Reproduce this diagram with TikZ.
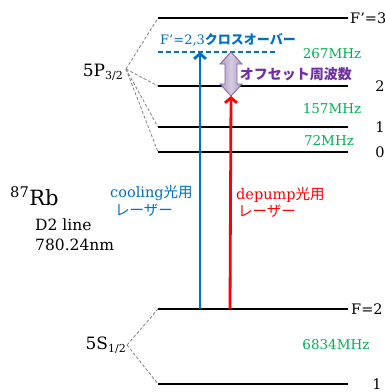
\documentclass[tikz,border=0pt]{standalone}
\usepackage{fontspec}
\setmainfont{DejaVu Serif}
\newfontfamily\jp{Noto Sans CJK JP}
\usetikzlibrary{arrows.meta}
\definecolor{lblue}{HTML}{0070C0}
\definecolor{lgreen}{HTML}{00B050}
\definecolor{lpurple}{HTML}{7030A0}
\definecolor{afill}{HTML}{B3A2C7}
\definecolor{aedge}{HTML}{8064A2}
\begin{document}
\begin{tikzpicture}[x=1pt,y=-1pt,
  level/.style={line width=2.2pt,black},
  fan/.style={dashed,dash pattern=on 3pt off 2pt,gray,line width=0.8pt},
  lab/.style={inner sep=0pt,font=\fontsize{14.5}{16}\selectfont},
  freq/.style={inner sep=0pt,text=lgreen,font=\fontsize{13.5}{16}\selectfont},
  laser/.style={line width=2.8pt,-{Straight Barb[length=5pt,width=12pt]}},
  small/.style={inner sep=0pt,font=\fontsize{14.5}{16}\selectfont},
]
\useasboundingbox (0,0) rectangle (385,392);

% level end points
\foreach \n/\y in {ea/18,eb/86,ec/127,ed/152,ga/309,gb/384} {
  \coordinate (\n L) at (158,\y);
  \coordinate (\n R) at (348,\y);
}
\foreach \n in {ea,eb,ec,ed,ga,gb} \draw[level] (\n L) -- (\n R);

% fans
\coordinate (papex) at (126,69);
\coordinate (sapex) at (127,345);
\foreach \n in {ea,eb,ec,ed} \draw[fan] (papex) -- (\n L);
\foreach \n in {ga,gb} \draw[fan] (sapex) -- (\n L);

% state labels
\node[inner sep=0pt,anchor=base east,font=\fontsize{17}{18}\selectfont] (p32) at (123,76)
  {5P\raisebox{-0.35ex}{\fontsize{11}{11}\selectfont 3/2}};
\node[inner sep=0pt,anchor=base east,font=\fontsize{17}{18}\selectfont] (s12) at (126,349)
  {5S\raisebox{-0.35ex}{\fontsize{11}{11}\selectfont 1/2}};

% level labels
\node[lab,anchor=west] (lea) at (350,18) {F’=3};
\node[lab] (leb) at (380,86) {2};
\node[lab] (lec) at (380,127) {1};
\node[lab] (led) at (380,152) {0};
\node[lab,anchor=west] (lga) at (351,309) {F=2};
\node[lab] (lgb) at (377,384) {1};

% frequencies
\node[freq] (f267) at (332,54) {267MHz};
\node[freq] (f157) at (332,109) {157MHz};
\node[freq] (f72) at (329,140) {72MHz};
\node[freq] (f6834) at (336,345) {6834MHz};

% crossover
\coordinate (xL) at (158,52);
\coordinate (xR) at (275,52);
\draw[lblue,line width=1.6pt,dash pattern=on 5pt off 3pt] (xL) -- (xR);
\node[inner sep=0pt,anchor=base west,text=lblue,font=\fontsize{13}{15}\selectfont] (xlab) at (160,44)
  {F’=2,3{\jp\bfseries クロスオーバー}};

% offset arrow
\coordinate (offT) at (231,52);
\coordinate (offB) at (231,96);
\draw[aedge,line width=0.8pt,line join=miter,left color=afill!90!aedge,right color=afill!90!aedge,middle color=afill!55]
  (offT) -- ++(11,12) -- ++(-5,0) -- ++(0,20) -- ++(5,0)
  -- (offB) -- ++(-11,-12) -- ++(5,0) -- ++(0,-20) -- ++(-5,0) -- cycle;
\node[inner sep=0pt,text=lpurple,font=\fontsize{14}{16}\selectfont\jp\bfseries] (offlab) at (296,74) {オフセット周波数};

% lasers
\coordinate (bs) at (200,309);
\coordinate (bt) at (200,52);
\coordinate (rs) at (230,309);
\draw[laser,lblue] (bs) -- (bt);
\draw[laser,red] (rs) -- (offB);

\node[small,anchor=base west,text=lblue] (cool1) at (110,197) {cooling{\jp 光用}};
\node[small,anchor=base west,text=lblue] (cool2) at (115,215) {\jp レーザー};
\node[small,anchor=base west,text=red] (dep1) at (236,199) {depump{\jp 光用}};
\node[small,anchor=base west,text=red] (dep2) at (238,216) {\jp レーザー};

% Rb
\node[inner sep=0pt,anchor=base west,font=\fontsize{21}{24}\selectfont] (rb) at (10,205) {\textsuperscript{87}Rb};
\node[inner sep=0pt,anchor=base west,font=\fontsize{15.5}{18}\selectfont] (d2) at (35,230) {D2 line};
\node[inner sep=0pt,anchor=base west,font=\fontsize{15.5}{18}\selectfont] (wl) at (35,250) {780.24nm};
\end{tikzpicture}
\end{document}
